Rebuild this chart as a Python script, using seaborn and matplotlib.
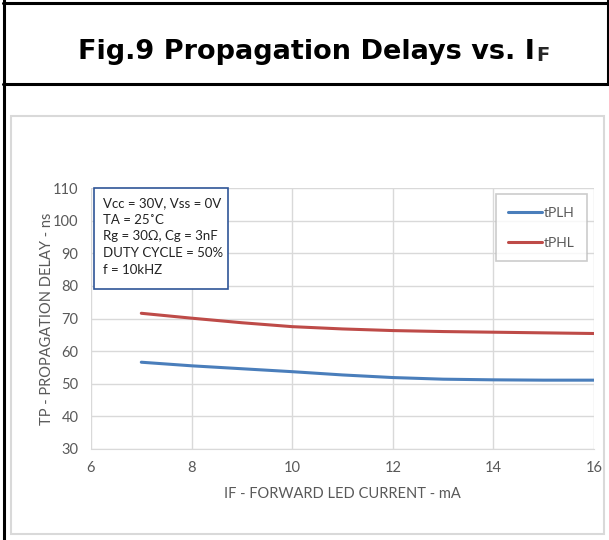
import matplotlib.pyplot as plt
import matplotlib.lines as mlines
import matplotlib.patches as mpatches
import pandas as pd
import seaborn as sns

# data
if_ma = [7, 8, 9, 10, 11, 12, 13, 14, 15, 16]
tplh = [56.6, 55.5, 54.6, 53.7, 52.7, 51.9, 51.4, 51.2, 51.1, 51.1]
tphl = [71.6, 70.1, 68.7, 67.5, 66.8, 66.3, 66.0, 65.8, 65.6, 65.4]
series_names = ['tPLH', 'tPHL']
x_ticks = [6, 8, 10, 12, 14, 16]
y_ticks = [30, 40, 50, 60, 70, 80, 90, 100, 110]
box_lines = ['Vcc = 30V, Vss = 0V', 'TA = 25˚C', 'Rg = 30Ω, Cg = 3nF',
             'DUTY CYCLE = 50%', 'f = 10kHZ']

df = pd.DataFrame({'IF': if_ma * 2,
                   'delay': tplh + tphl,
                   'series': [series_names[0]] * len(if_ma) + [series_names[1]] * len(if_ma)})

sns.set_style('white')
plt.rcParams['font.family'] = ['Lato', 'DejaVu Sans']

W, H = 609, 540
fig = plt.figure(figsize=(W / 100, H / 100), dpi=100)


def px(x, y):
    # pixel coords (top-left origin) -> figure fraction
    return x / W, 1 - y / H


# plot area: x 91..594, y 188..449 px
ax = fig.add_axes([91 / W, 1 - 449 / H, (594 - 91) / W, (449 - 188) / H])
sns.lineplot(data=df, x='IF', y='delay', hue='series', ax=ax,
             palette=['#4A7EBB', '#BE4B48'], linewidth=2.2, legend=True)

grey = '#595959'
ax.set_xlim(6, 16)
ax.set_ylim(30, 110)
ax.set_xticks(x_ticks)
ax.set_yticks(y_ticks)
ax.grid(True, color='#d9d9d9', linewidth=1)
for s in ax.spines.values():
    s.set_visible(False)
ax.spines['bottom'].set_visible(True)
ax.spines['bottom'].set_color('#d9d9d9')
ax.tick_params(axis='both', length=0, labelsize=10.5, labelcolor=grey)
ax.tick_params(axis='x', pad=9)
ax.tick_params(axis='y', pad=9)
ax.set_xlabel('IF - FORWARD LED CURRENT - mA', fontsize=10.5, color=grey, labelpad=8)
ax.set_ylabel('TP - PROPAGATION DELAY - ns', fontsize=10.5, color=grey, labelpad=-1)

leg = ax.legend(loc='upper right', bbox_to_anchor=(0.986, 0.977), borderaxespad=0,
                frameon=True, fancybox=False, edgecolor='#bfbfbf', fontsize=10,
                handlelength=2.4, handletextpad=0.15, labelspacing=1.3,
                borderpad=0.9, title=None)
leg.get_frame().set_linewidth(1.2)
for t in leg.get_texts():
    t.set_color(grey)

# condition box
x0, y0 = px(94, 289)
x1, y1 = px(228, 188)
fig.patches.append(mpatches.Rectangle((x0, y0), x1 - x0, y1 - y0, transform=fig.transFigure,
                                      facecolor='white', edgecolor='#2F5597', linewidth=1.2))
for i, line in enumerate(box_lines):
    fig.text(*px(103, 203 + i * 16.7), line, fontsize=9.5, color='#222222', va='center')

# chart frame and page lines
cx0, cy0 = px(10.5, 534)
cx1, cy1 = px(604, 116)
fig.patches.append(mpatches.Rectangle((cx0, cy0), cx1 - cx0, cy1 - cy0, transform=fig.transFigure,
                                      facecolor='none', edgecolor='#d9d9d9', linewidth=1.5))
for (a, b) in [((4, 0), (4, 540)), ((3, 3), (609, 3)), ((3, 83.5), (609, 83.5)), ((607.5, 0), (607.5, 84))]:
    fig.lines.append(mlines.Line2D([px(*a)[0], px(*b)[0]], [px(*a)[1], px(*b)[1]],
                                   transform=fig.transFigure, color='black', linewidth=2.2))

# title with small "F"
t1 = fig.text(*px(78, 59), 'Fig.9 Propagation Delays vs. I', fontsize=19.5,
              fontweight='bold', family=['DejaVu Sans'], color='black', va='baseline')
ax.annotate('F', xy=(1, 0), xycoords=t1, xytext=(1, 0), textcoords='offset points',
            fontsize=14, fontweight='bold', family=['DejaVu Sans'], va='bottom', ha='left')

fig.savefig('out.png', dpi=100)
